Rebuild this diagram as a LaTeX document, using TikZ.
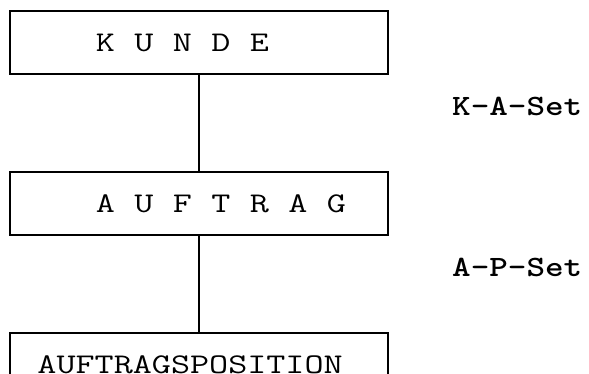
\documentclass[tikz,border=0pt]{standalone}
\usepackage{fontspec}
\newfontfamily\boxfont[FakeStretch=1.3]{Latin Modern Mono}
\newfontfamily\labfont[FakeStretch=1.2]{lmmonolt10-bold.otf}
\usepackage{tikz}
\usetikzlibrary{positioning}

\newcommand{\gp}{\hspace*{19.45pt}}

\begin{document}
\begin{tikzpicture}[x=1pt, y=-1pt,
			box/.style={draw, rectangle, line width=2.8pt, minimum width=378pt, minimum height=63pt,
				inner sep=8pt, text width=362pt, align=left, font=\boxfont\fontsize{28.5}{34}\selectfont},
			setlabel/.style={anchor=west, inner sep=0pt, font=\labfont\fontsize{29.5}{34}\selectfont},
			link/.style={line width=2.8pt}]
			
			\useasboundingbox (0,0) rectangle (589,374);
			\clip (0,0) rectangle (589,374);
			
			\node[box] (kunde) at (199,42.5) {\gp\gp\gp\gp K\gp U\gp N\gp D\gp E};
			\node[box] (auftrag) at (199,203.5) {\gp\gp\gp\gp A\gp U\gp F\gp T\gp R\gp A\gp G};
			\node[box] (pos) at (199,364.5) {\gp AUFTRAGSPOSITION};
			
			\node[setlabel] (kaset) at (452,106) {K-A-Set};
			\node[setlabel] (apset) at (452,267) {A-P-Set};
			
			\draw[link] (kunde) -- (auftrag);
			\draw[link] (auftrag) -- (pos);
			
		\end{tikzpicture}
\end{document}
